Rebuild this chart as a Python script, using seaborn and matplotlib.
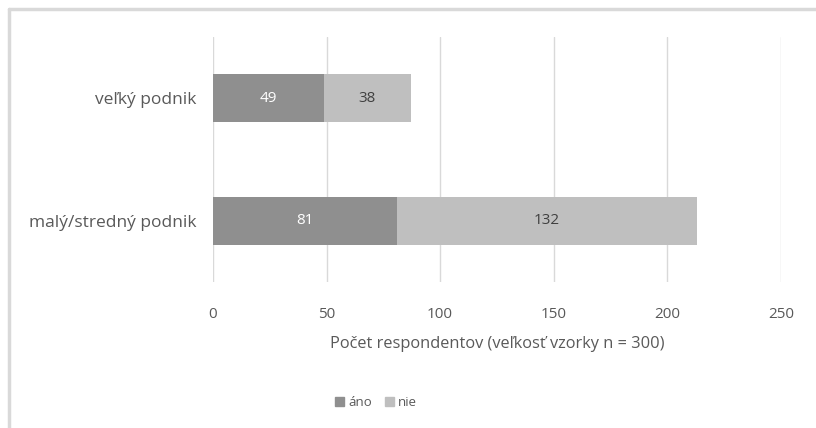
import numpy as np
import pandas as pd
import seaborn as sns
import matplotlib.pyplot as plt
from matplotlib.patches import Patch

# data
categories = ['veľký podnik', 'malý/stredný podnik']
ano = [49, 81]
nie = [38, 132]

dark = '#8f8f8f'
light = '#bfbfbf'
txt = '#595959'

sns.set_style('white')
plt.rcParams['font.family'] = ['Open Sans', 'DejaVu Sans']

df = pd.DataFrame({'podnik': categories, 'ano': ano, 'nie': nie})
df['total'] = df.ano + df.nie

fig = plt.figure(figsize=(8.16, 4.28), dpi=100)
ax = fig.add_axes([0.261, 0.341, 0.696, 0.573])

# stacked bars: total in light grey, "áno" drawn over it in dark grey
sns.barplot(data=df, x='total', y='podnik', color=light, width=0.39,
            saturation=1, linewidth=0, ax=ax, zorder=3)
sns.barplot(data=df, x='ano', y='podnik', color=dark, width=0.39,
            saturation=1, linewidth=0, ax=ax, zorder=3)

for i, row in df.iterrows():
    ax.text(row.ano / 2, i, str(row.ano), ha='center', va='center',
            color='white', fontsize=11, zorder=4)
    ax.text(row.ano + row.nie / 2, i, str(row.nie), ha='center', va='center',
            color='#404040', fontsize=11, zorder=4)

ax.set_xlim(0, 250)
ax.set_ylim(1.5, -0.5)
ax.set_xticks(np.arange(0, 251, 50))
ax.xaxis.grid(True, color='#d9d9d9', linewidth=1)
ax.set_axisbelow(True)
for s in ax.spines.values():
    s.set_visible(False)
ax.tick_params(axis='both', length=0, colors=txt)
ax.tick_params(axis='x', pad=18, labelsize=11)
ax.tick_params(axis='y', pad=12, labelsize=12.5)
ax.set_ylabel('')
ax.set_xlabel('Počet respondentov (veľkosť vzorky n = 300)', color=txt,
              fontsize=11.8, labelpad=10)

handles = [Patch(color=dark, label='áno'), Patch(color=light, label='nie')]
fig.legend(handles=handles, loc='center', bbox_to_anchor=(0.461, 0.06),
           ncol=2, frameon=False, fontsize=9.5, labelcolor=txt,
           handlelength=0.7, handleheight=0.7, handletextpad=0.3,
           columnspacing=1.0)

# chart border (top and left edges visible in the source)
fig.add_artist(plt.Line2D([0.0105, 1.0], [0.979, 0.979], color='#d9d9d9',
                          linewidth=2.5, transform=fig.transFigure))
fig.add_artist(plt.Line2D([0.0105, 0.0105], [0.0, 0.979], color='#d9d9d9',
                          linewidth=2.5, transform=fig.transFigure))

fig.savefig('out.png', dpi=100)
